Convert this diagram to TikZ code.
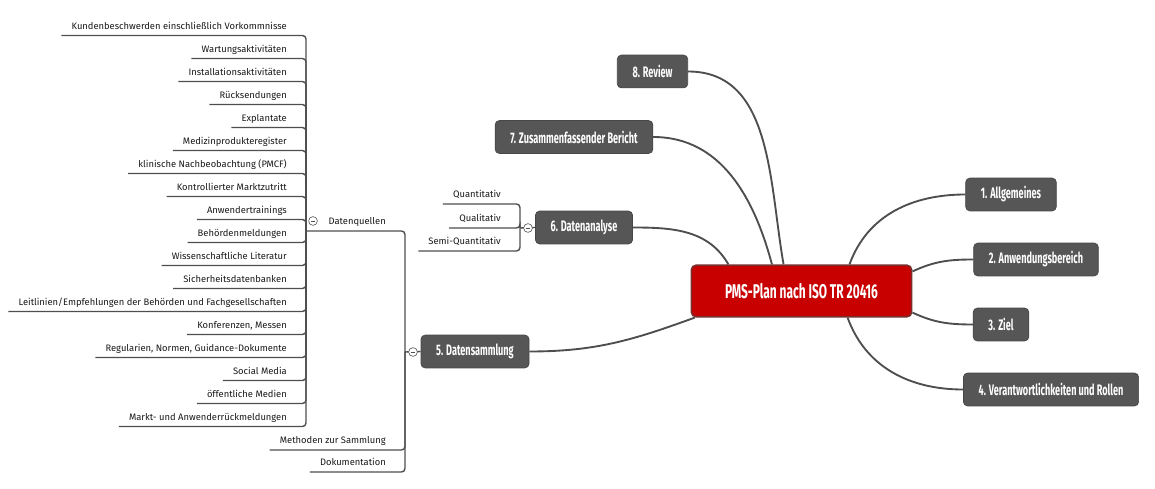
\documentclass[tikz,border=0pt]{standalone}
\usepackage{fontspec}
\setmainfont{Fira Sans}
\newfontfamily\labelfont{Fira Sans}
\newfontfamily\boxfont[FakeStretch=0.6]{Fira Sans}
\usetikzlibrary{positioning}

\definecolor{boxgray}{HTML}{565656}
\definecolor{boxline}{HTML}{474747}
\definecolor{rootred}{HTML}{C80000}
\definecolor{rootline}{HTML}{7A2E2E}
\definecolor{linkgray}{HTML}{4E4E4E}

\begin{document}
\begin{tikzpicture}[x=0.03cm,y=-0.03cm,
    root/.style={draw=rootline,line width=1.4pt,fill=rootred,rounded corners=4pt,
        minimum width=188pt,minimum height=44pt,text=white,
        font=\boxfont\bfseries\fontsize{17}{19}\selectfont},
    topic/.style={draw=boxline,line width=0.6pt,fill=boxgray,rounded corners=3.5pt,
        minimum height=28pt,inner xsep=13pt,text=white,
        font=\boxfont\bfseries\fontsize{13}{15}\selectfont},
    leaf/.style={anchor=south east,inner xsep=0.3cm,inner ysep=2.5pt,
        text height=1.5ex,text depth=0.5ex,text=black!90,
        font=\labelfont\fontsize{8}{9}\selectfont},
    link/.style={draw=linkgray,line width=1.6pt},
    branch/.style={draw=linkgray,line width=1.2pt,rounded corners=3pt},
    fold/.style={circle,draw=linkgray,line width=0.5pt,fill=white,
        minimum size=7.5pt,inner sep=0pt,
        path picture={\draw[linkgray,line width=0.5pt]
            ([xshift=1.8pt]path picture bounding box.west) --
            ([xshift=-1.8pt]path picture bounding box.east);}}]
    \useasboundingbox (0,0) rectangle (1155,489);

    % main topics
    \node[root]  (pms) at (801.5,291)  {PMS-Plan nach ISO TR 20416};
    \node[topic] (a1)  at (1011,194.5) {1. Allgemeines};
    \node[topic] (a2)  at (1036,259.5) {2. Anwendungsbereich};
    \node[topic] (a3)  at (1001,324.5) {3. Ziel};
    \node[topic] (a4)  at (1051,389.5) {4. Verantwortlichkeiten und Rollen};
    \node[topic] (a5)  at (475,351.5)  {5. Datensammlung};
    \node[topic] (a6)  at (584,227.5)  {6. Datenanalyse};
    \node[topic] (a7)  at (574,137)    {7. Zusammenfassender Bericht};
    \node[topic] (a8)  at (652.5,71.5) {8. Review};

    \path[link]
        (pms.29.7)  edge[out=70,in=180]  (a1.west)
        (pms.10.8)  edge[out=25,in=180]  (a2.west)
        (pms.-11.3) edge[out=-25,in=180] (a3.west)
        (pms.-30.3) edge[out=-70,in=180] (a4.west)
        (pms.194)   edge[out=200,in=0]   (a5.east)
        (pms.160)   edge[out=120,in=0]   (a6.east)
        (pms.138.6) edge[out=105,in=0]   (a7.east)
        (pms.124)   edge[out=100,in=0]   (a8.east);

    % 6. Datenanalyse
    \coordinate (dabar) at (520,228);
    \node[leaf] (qn) at (511,204) {Quantitativ};
    \node[leaf] (ql) at (511,228) {Qualitativ};
    \node[leaf] (sq) at (511,251) {Semi-Quantitativ};
    \draw[branch] (a6.west) -- (dabar);
    \foreach \n in {qn,ql,sq}
        \draw[branch] (dabar) |- (\n.south west);

    % 5. Datensammlung
    \coordinate (dsbar) at (405,352);
    \coordinate (dqbar) at (306,231);
    \node[leaf] (dq)  at (396,231) {Datenquellen};
    \node[leaf] (ms)  at (396,450) {Methoden zur Sammlung};
    \node[leaf] (dok) at (396,472) {Dokumentation};
    \draw[branch] (a5.west) -- (dsbar);
    \draw[branch] (dsbar) |- (dqbar);
    \draw[branch] (dsbar) |- (ms.south west);
    \draw[branch] (dsbar) |- (dok.south west);

    % Datenquellen
    \foreach \txt [count=\i] in {Kundenbeschwerden einschließlich Vorkommnisse,
        Wartungsaktivitäten, Installationsaktivitäten, Rücksendungen, Explantate,
        Medizinprodukteregister, klinische Nachbeobachtung (PMCF),
        Kontrollierter Marktzutritt, Anwendertrainings, Behördenmeldungen,
        Wissenschaftliche Literatur, Sicherheitsdatenbanken,
        Leitlinien/Empfehlungen der Behörden und Fachgesellschaften,
        {Konferenzen, Messen}, {Regularien, Normen, Guidance-Dokumente},
        Social Media, öffentliche Medien, Markt- und Anwenderrückmeldungen}
        \node[leaf] (q\i) at (297,{12.5+23*\i}) {\txt};
    \foreach \i in {1,...,18}
        \draw[branch] (dqbar) |- (q\i.south west);

    % fold markers
    \node[fold] (f6) at (528,228) {};
    \node[fold] (f5) at (413,352) {};
    \node[fold] (fq) at (313,221) {};
\end{tikzpicture}
\end{document}
